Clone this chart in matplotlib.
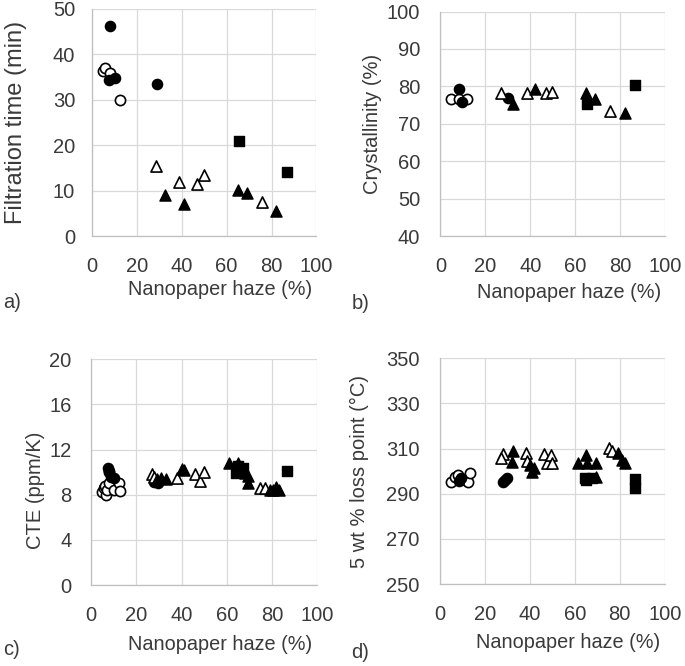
import matplotlib
matplotlib.use("Agg")
import matplotlib.pyplot as plt

plt.rcParams['font.family'] = ['Liberation Sans', 'DejaVu Sans']

# x = nanopaper haze (%), y = property; one pair of lists per marker type
# panel a) filtration time (min)
a_oc_x = [5.0, 5.8, 8.0, 12.7]
a_oc_y = [36.3, 36.9, 35.8, 30.0]
a_fc_x = [8.0, 7.7, 10.3, 29.2]
a_fc_y = [46.3, 34.4, 34.9, 33.4]
a_ot_x = [28.4, 38.7, 46.8, 49.8, 75.9]
a_ot_y = [15.5, 12.0, 11.4, 13.4, 7.6]
a_ft_x = [32.4, 40.9, 65.0, 69.0, 81.8]
a_ft_y = [9.0, 7.0, 10.1, 9.5, 5.6]
a_fs_x = [65.5, 86.8]
a_fs_y = [20.9, 14.0]

# panel b) crystallinity (%)
b_oc_x = [4.6, 8.2, 12.0]
b_oc_y = [76.7, 76.7, 76.7]
b_fc_x = [8.3, 9.8, 30.1]
b_fc_y = [79.2, 75.9, 76.8]
b_ot_x = [26.9, 38.6, 46.9, 49.7, 75.7]
b_ot_y = [78.3, 78.2, 78.2, 78.4, 73.3]
b_ft_x = [32.4, 42.0, 65.0, 68.7, 82.4]
b_ft_y = [75.2, 79.2, 78.2, 76.6, 72.8]
b_fs_x = [65.5, 86.9]
b_fs_y = [75.2, 80.4]

# panel c) CTE (ppm/K)
c_oc_x = [5.0, 5.5, 6.0, 6.5, 7.0, 8.0, 8.0, 10.0, 12.5, 13.0]
c_oc_y = [8.2, 8.6, 8.8, 8.0, 8.4, 10.0, 9.0, 8.4, 9.0, 8.3]
c_fc_x = [7.5, 8.0, 9.0, 10.0, 28.0, 29.5]
c_fc_y = [10.4, 10.1, 9.6, 9.5, 9.1, 9.0]
c_ot_x = [27.0, 28.0, 38.0, 46.0, 48.0, 50.0, 74.8, 77.0]
c_ot_y = [9.8, 9.6, 9.5, 9.8, 9.2, 10.0, 8.6, 8.6]
c_ft_x = [29.0, 31.0, 33.0, 40.0, 41.0, 61.2, 65.0, 68.0, 69.6, 69.6, 79.2, 80.5, 81.9, 83.0]
c_ft_y = [9.4, 9.5, 9.4, 10.3, 10.2, 10.8, 10.8, 9.9, 9.7, 9.0, 8.4, 8.4, 8.7, 8.4]
c_fs_x = [64.2, 65.2, 67.0, 86.6]
c_fs_y = [9.9, 10.5, 10.4, 10.1]

# panel d) 5 wt % loss point (degC)
d_oc_x = [5.2, 6.7, 8.1, 11.0, 12.6, 13.3]
d_oc_y = [295.4, 297.6, 298.4, 296.0, 295.4, 299.1]
d_fc_x = [8.5, 9.6, 28.0, 28.9, 29.8]
d_fc_y = [295.5, 296.9, 295.0, 296.2, 296.8]
d_ot_x = [27.9, 27.4, 38.2, 38.8, 46.5, 47.7, 49.6, 50.0, 75.3, 76.7]
d_ot_y = [307.7, 305.8, 308.0, 304.3, 307.7, 303.5, 307.2, 303.5, 310.2, 308.8]
d_ft_x = [32.6, 32.3, 40.0, 41.2, 42.0, 61.5, 64.9, 65.5, 69.3, 69.6, 79.3, 81.2, 82.2]
d_ft_y = [309.1, 304.0, 302.8, 299.8, 301.5, 303.5, 307.2, 303.5, 303.8, 297.6, 308.0, 305.0, 303.4]
d_fs_x = [64.4, 65.0, 67.5, 86.7, 86.7]
d_fs_y = [297.0, 296.0, 297.0, 296.5, 292.5]

panels = [
    dict(tag='a)', ylabel='Filtration time (min)', ylim=(0, 50), yticks=[0, 10, 20, 30, 40, 50],
         oc=(a_oc_x, a_oc_y), fc=(a_fc_x, a_fc_y), ot=(a_ot_x, a_ot_y), ft=(a_ft_x, a_ft_y), fs=(a_fs_x, a_fs_y),
         pos=[0.134, 0.6456, 0.328, 0.341], ylab=(-0.29, 0.5), ylab_fs=17, ypad=12,
         xlab_y=-0.194, tag_xy=(0.004, 0.5375)),
    dict(tag='b)', ylabel='Crystallinity (%)', ylim=(40, 100), yticks=[40, 50, 60, 70, 80, 90, 100],
         oc=(b_oc_x, b_oc_y), fc=(b_fc_x, b_fc_y), ot=(b_ot_x, b_ot_y), ft=(b_ft_x, b_ft_y), fs=(b_fs_x, b_fs_y),
         pos=[0.643, 0.6456, 0.3275, 0.337], ylab=(-0.262, 0.5), ylab_fs=14.5, ypad=14.5,
         xlab_y=-0.21, tag_xy=(0.514, 0.536)),
    dict(tag='c)', ylabel='CTE (ppm/K)', ylim=(0, 20), yticks=[0, 4, 8, 12, 16, 20],
         oc=(c_oc_x, c_oc_y), fc=(c_fc_x, c_fc_y), ot=(c_ot_x, c_ot_y), ft=(c_ft_x, c_ft_y), fs=(c_fs_x, c_fs_y),
         pos=[0.133, 0.1216, 0.33, 0.339], ylab=(-0.204, 0.42), ylab_fs=14.5, ypad=14,
         xlab_y=-0.221, tag_xy=(0.004, 0.0165)),
    dict(tag='d)', ylabel='5 wt % loss point (\u00b0C)', ylim=(250, 350), yticks=[250, 270, 290, 310, 330, 350],
         oc=(d_oc_x, d_oc_y), fc=(d_fc_x, d_fc_y), ot=(d_ot_x, d_ot_y), ft=(d_ft_x, d_ft_y), fs=(d_fs_x, d_fs_y),
         pos=[0.642, 0.1231, 0.3285, 0.339], ylab=(-0.316, 0.5), ylab_fs=14.5, ypad=14.5,
         xlab_y=-0.217, tag_xy=(0.513, 0.012)),
]

txt = '#3a3a3a'
fig = plt.figure(figsize=(6.85, 6.66), dpi=100)

for p in panels:
    ax = fig.add_axes(p['pos'])
    ax.set_xlim(0, 100)
    ax.set_ylim(*p['ylim'])
    ax.set_xticks([0, 20, 40, 60, 80, 100])
    ax.set_yticks(p['yticks'])
    ax.grid(True, color='#d9d9d9', lw=0.9)
    ax.set_axisbelow(True)
    for s in ['top', 'right']:
        ax.spines[s].set_visible(False)
    for s in ['left', 'bottom']:
        ax.spines[s].set_color('#bfbfbf')
        ax.spines[s].set_linewidth(0.9)
    ax.tick_params(length=0, labelsize=14.5, labelcolor=txt)
    ax.tick_params(axis='x', pad=15)
    ax.tick_params(axis='y', pad=p['ypad'])

    ms = 54
    ax.scatter(*p['oc'], s=ms, marker='o', facecolor='white', edgecolor='black', linewidth=1.2, zorder=3)
    ax.scatter(*p['fc'], s=ms, marker='o', facecolor='black', edgecolor='black', linewidth=1.0, zorder=3)
    ax.scatter(*p['ot'], s=ms + 10, marker='^', facecolor='white', edgecolor='black', linewidth=1.2, zorder=3)
    ax.scatter(*p['ft'], s=ms + 10, marker='^', facecolor='black', edgecolor='black', linewidth=1.0, zorder=3)
    ax.scatter(*p['fs'], s=ms + 6, marker='s', facecolor='black', edgecolor='black', linewidth=1.0, zorder=3)

    ax.set_ylabel(p['ylabel'], fontsize=p['ylab_fs'], color=txt)
    ax.yaxis.set_label_coords(*p['ylab'])
    ax.set_xlabel('Nanopaper haze (%)', fontsize=14.3, color=txt)
    ax.xaxis.set_label_coords(0.572, p['xlab_y'])
    fig.text(p['tag_xy'][0], p['tag_xy'][1], p['tag'], fontsize=14.5, color=txt)

fig.savefig('out.png', dpi=100)
